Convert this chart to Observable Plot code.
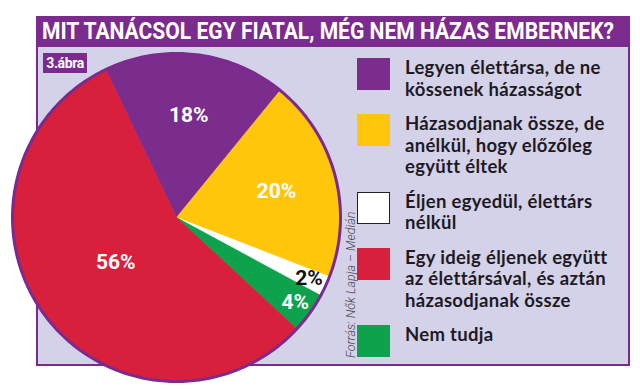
<!DOCTYPE html>
<html>
<head>
<meta charset="utf-8">
<script src="https://cdn.jsdelivr.net/npm/d3@7"></script>
<script src="https://cdn.jsdelivr.net/npm/@observablehq/plot@0.6"></script>
<style>
  html, body { margin: 0; padding: 0; background: #fff; }
  #wrap { position: relative; width: 640px; height: 390px; overflow: hidden; background: #fff; }
  #title { position: absolute; left: 36px; top: 16px; width: 594px; height: 31px; background: #7b2a8d;
    color: #fff; font-family: Roboto, sans-serif; font-weight: bold; font-size: 24px; line-height: 31px; white-space: nowrap; }
  #title span { display: inline-block; transform-origin: 0 50%; position: absolute; left: 6px; }
  #panel { position: absolute; left: 36px; top: 47px; width: 590px; height: 317px; background: #d4d2e9;
    border: 2px solid #7b2a8d; border-top: none; }
  #badge { position: absolute; left: 43px; top: 53px; width: 44px; height: 20px; background: #7b2a8d; color: #fff;
    font-family: Roboto, sans-serif; font-weight: bold; font-size: 14px; letter-spacing: -0.4px;
    line-height: 20px; text-align: center; z-index: 3; }
  #chart { position: absolute; left: 6px; top: 47px; z-index: 2; }
  #chart svg { background: none !important; overflow: visible; }
  #legend { position: absolute; left: 357px; top: 58px; display: flex; flex-direction: column; gap: 14px; z-index: 3; }
  .item { display: flex; align-items: flex-start; }
  .sw { width: 33px; height: 32px; flex: none; box-sizing: border-box; }
  .lab { margin-left: 15px; font-family: Lato, sans-serif; font-weight: bold; font-size: 18.5px; line-height: 21.5px;
    letter-spacing: 0.3px; color: #1e1a24; margin-top: -1px; white-space: nowrap; }
  #source { position: absolute; left: 343px; top: 203px; height: 155px; writing-mode: vertical-rl; transform: rotate(180deg);
    font-family: Roboto, sans-serif; font-style: italic; font-weight: 300; font-size: 12.5px;
    color: #4a4650; text-align: left; white-space: nowrap; z-index: 3; }
</style>
</head>
<body>
<div id="wrap">
  <div id="title"><span id="ttext"></span></div>
  <div id="panel"></div>
  <div id="chart"></div>
  <div id="badge"></div>
  <div id="legend"></div>
  <div id="source"></div>
</div>
<script>
// ---- data ----
const titleText = "MIT TANÁCSOL EGY FIATAL, MÉG NEM HÁZAS EMBERNEK?";
const figLabel = "3.ábra";
const sourceText = "Forrás: Nők Lapja – Medián";
const categories = [
  "Legyen élettársa, de ne kössenek házasságot",
  "Házasodjanak össze, de anélkül, hogy előzőleg együtt éltek",
  "Éljen egyedül, élettárs nélkül",
  "Egy ideig éljenek együtt az élettársával, és aztán házasodjanak össze",
  "Nem tudja"
];
const legendLines = [
  ["Legyen élettársa, de ne", "kössenek házasságot"],
  ["Házasodjanak össze, de", "anélkül, hogy előzőleg", "együtt éltek"],
  ["Éljen egyedül, élettárs", "nélkül"],
  ["Egy ideig éljenek együtt", "az élettársával, és aztán", "házasodjanak össze"],
  ["Nem tudja"]
];
const values = [18, 20, 2, 56, 4];            // percent
const colors = ["#7b2d8e", "#ffc60b", "#ffffff", "#d81f3c", "#0ea24c"];
const pieOrder = [0, 1, 2, 4, 3];              // clockwise slice order
const labelColors = ["#fff", "#fff", "#111", "#fff", "#fff"];

// ---- layout ----
const purple = "#7b2a8d";
const startAngle = -25.6 * Math.PI / 180;
const size = 340, margin = 6;

document.getElementById("ttext").textContent = titleText;
document.getElementById("badge").textContent = figLabel;
document.getElementById("source").textContent = sourceText;

// fit title width
const tt = document.getElementById("ttext");
const tw = tt.getBoundingClientRect().width;
tt.style.transform = `scaleX(${572 / tw})`;

// legend
const leg = document.getElementById("legend");
categories.forEach((c, i) => {
  const it = document.createElement("div"); it.className = "item";
  const sw = document.createElement("div"); sw.className = "sw"; sw.style.background = colors[i];
  if (colors[i] === "#ffffff") sw.style.border = "1.5px solid #222";
  const lab = document.createElement("div"); lab.className = "lab";
  lab.innerHTML = legendLines[i].join("<br>");
  it.append(sw, lab); leg.append(it);
});

// slices as polygons in a unit coordinate system
const slicePts = [], labels = [];
let a0 = startAngle;
pieOrder.forEach(i => {
  const a1 = a0 + values[i] / 100 * 2 * Math.PI;
  const k = categories[i];
  slicePts.push({k, x: 0, y: 0});
  const n = Math.max(4, Math.ceil((a1 - a0) / (Math.PI / 180)));
  for (let t = 0; t <= n; t++) {
    const a = a0 + (a1 - a0) * t / n;
    slicePts.push({k, x: Math.sin(a), y: Math.cos(a)});
  }
  slicePts.push({k, x: 0, y: 0});
  const mid = (a0 + a1) / 2;
  const r = values[i] < 5 ? 0.89 : values[i] > 50 ? 0.46 : 0.63;
  labels.push({x: r * Math.sin(mid), y: r * Math.cos(mid), text: values[i] + "%", fill: labelColors[i]});
  a0 = a1;
});
const ring = d3.range(0, 361).map(d => ({x: Math.sin(d * Math.PI / 180), y: Math.cos(d * Math.PI / 180)}));

const labelFont = 'Roboto, sans-serif';
const chart = Plot.plot({
  width: size, height: size, margin,
  x: {domain: [-1, 1], axis: null},
  y: {domain: [-1, 1], axis: null},
  color: {domain: categories, range: colors},
  style: {background: "none", overflow: "visible"},
  marks: [
    Plot.line(slicePts, {x: "x", y: "y", z: "k", fill: "k", stroke: "k", strokeWidth: 0.6}),
    Plot.line(ring, {x: "x", y: "y", stroke: purple, strokeWidth: 3}),
    Plot.text(labels.filter(d => d.fill !== "#111"), {x: "x", y: "y", text: "text", fill: "#fff",
      fontSize: 21, fontWeight: "bold", fontFamily: labelFont}),
    Plot.text(labels.filter(d => d.fill === "#111"), {x: "x", y: "y", text: "text", fill: "#111",
      fontSize: 21, fontWeight: "bold", fontFamily: labelFont})
  ]
});
document.getElementById("chart").append(chart);
</script>
</body>
</html>
